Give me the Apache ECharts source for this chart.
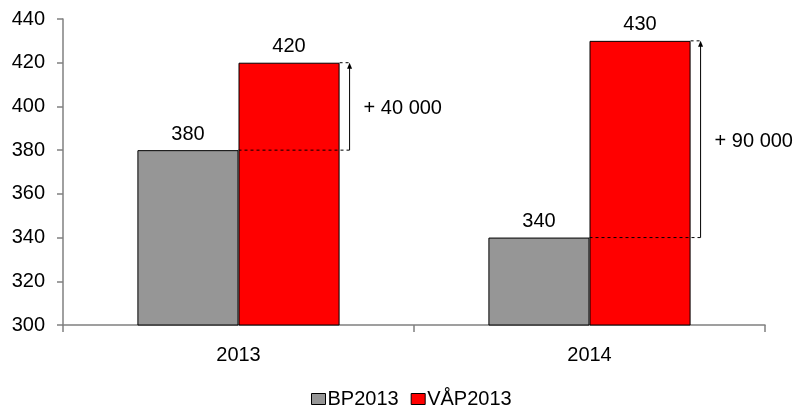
<!DOCTYPE html>
<html>
<head>
<meta charset="utf-8">
<script src="https://cdn.jsdelivr.net/npm/echarts@6/dist/echarts.min.js"></script>
<style>html,body{margin:0;padding:0;background:#fff}#c{width:794px;height:409px}</style>
</head>
<body>
<div id="c"></div>
<script>
const categories = ['2013', '2014'];
const bp2013 = [380, 340];
const vap2013 = [420, 430];
const diffLabels = ['+ 40 000', '+ 90 000'];
const yMin = 300, yMax = 440, yInterval = 20;

const FONT = 'Liberation Sans, Arial, sans-serif';
const FS = 20;
const BAR_FRAC = 0.288;
const chart = echarts.init(document.getElementById('c'));

chart.setOption({
  animation: false,
  textStyle: { fontFamily: FONT },
  grid: { left: 63, right: 29, top: 19, bottom: 84 },
  legend: {
    data: ['BP2013', 'VÅP2013'],
    top: 389,
    left: 311,
    padding: 0,
    itemWidth: 14,
    itemHeight: 11,
    itemGap: 12,
    icon: 'rect',
    textStyle: { fontSize: FS, color: '#000', fontFamily: FONT, padding: [0, 0, 0, -3] },
    itemStyle: { borderColor: '#000', borderWidth: 1 }
  },
  xAxis: {
    type: 'category',
    data: categories,
    axisLine: { lineStyle: { color: '#808080', width: 1.5 } },
    axisTick: { show: true, length: 7, lineStyle: { color: '#808080', width: 1.5 } },
    axisLabel: { fontSize: FS, color: '#000', margin: 20, fontFamily: FONT },
    splitLine: { show: false }
  },
  yAxis: {
    type: 'value',
    min: yMin, max: yMax, interval: yInterval,
    axisLine: { show: true, lineStyle: { color: '#808080', width: 1.5 } },
    axisTick: { show: true, length: 6, lineStyle: { color: '#808080', width: 1.5 } },
    axisLabel: { fontSize: FS, color: '#000', margin: 18, fontFamily: FONT },
    splitLine: { show: false }
  },
  series: [
    {
      name: 'BP2013', type: 'bar', data: bp2013,
      barWidth: (BAR_FRAC * 100) + '%', barGap: '0%',
      itemStyle: { color: '#969696', borderColor: '#000', borderWidth: 1 },
      label: { show: true, position: 'top', distance: 6, fontSize: FS, color: '#000', fontFamily: FONT }
    },
    {
      name: 'VÅP2013', type: 'bar', data: vap2013,
      barWidth: (BAR_FRAC * 100) + '%', barGap: '0%',
      itemStyle: { color: '#ff0000', borderColor: '#000', borderWidth: 1 },
      label: { show: true, position: 'top', distance: 6, fontSize: FS, color: '#000', fontFamily: FONT }
    },
    {
      name: 'diff', type: 'custom',
      data: categories.map((c, i) => [i, bp2013[i], vap2013[i]]),
      z: 10,
      silent: true,
      renderItem: function (params, api) {
        const i = api.value(0);
        const b = api.coord([i, api.value(1)]);
        const t = api.coord([i, api.value(2)]);
        const band = api.size([1, 0])[0];
        const bw = band * BAR_FRAC;
        const xr = b[0] + bw;
        const ax = xr + 10;
        const dash = { stroke: '#000', lineWidth: 1, lineDash: [3, 3] };
        return {
          type: 'group',
          children: [
            { type: 'line', shape: { x1: b[0], y1: b[1], x2: ax + 2, y2: b[1] }, style: dash },
            { type: 'line', shape: { x1: xr, y1: t[1], x2: ax + 1, y2: t[1] }, style: dash },
            { type: 'line', shape: { x1: ax, y1: b[1], x2: ax, y2: t[1] + 3 }, style: { stroke: '#000', lineWidth: 1 } },
            { type: 'polygon', shape: { points: [[ax - 2.5, t[1] + 6], [ax, t[1]], [ax + 2.5, t[1] + 6]] }, style: { fill: '#000' } },
            { type: 'text', x: xr + 24, y: (b[1] + t[1]) / 2 + 2,
              style: { text: diffLabels[params.dataIndex], fontSize: FS, fill: '#000', fontFamily: FONT, verticalAlign: 'middle', align: 'left' } }
          ]
        };
      }
    }
  ]
});
</script>
</body>
</html>
